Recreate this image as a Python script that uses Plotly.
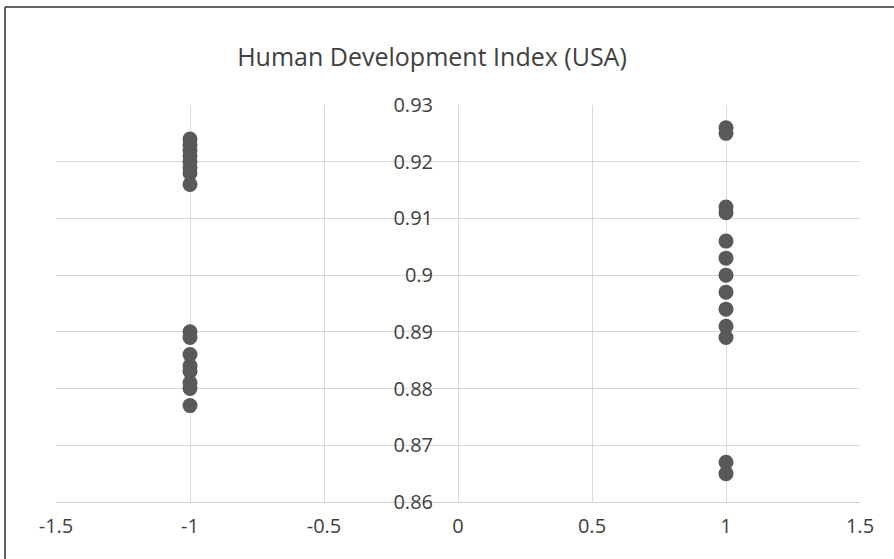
import plotly.graph_objects as go

# Data
group_a_y = [0.924, 0.923, 0.922, 0.921, 0.920, 0.919, 0.918, 0.916,
             0.890, 0.889, 0.886, 0.884, 0.883, 0.881, 0.880, 0.877]
group_a_x = [-1] * len(group_a_y)

group_b_y = [0.926, 0.925, 0.912, 0.911, 0.906, 0.903, 0.900, 0.897,
             0.894, 0.891, 0.889, 0.867, 0.865]
group_b_x = [1] * len(group_b_y)

xs = group_a_x + group_b_x
ys = group_a_y + group_b_y

x_ticks = [-1.5, -1, -0.5, 0, 0.5, 1, 1.5]
x_tick_text = ["-1.5", "-1", "-0.5", "0", "0.5", "1", "1.5"]
y_ticks = [0.86, 0.87, 0.88, 0.89, 0.90, 0.91, 0.92, 0.93]
y_tick_text = ["0.86", "0.87", "0.88", "0.89", "0.9", "0.91", "0.92", "0.93"]

FONT = "Open Sans"
TEXT = "#404040"

fig = go.Figure()
fig.add_trace(go.Scatter(
    x=xs, y=ys, mode="markers",
    marker=dict(size=15, color="#595959", line=dict(width=0)),
    showlegend=False, hoverinfo="skip",
))

bx = (5 - 56) / 804
by = (502 - 7) / 397
border = dict(color="#333333", width=1.5)

fig.update_layout(
    width=894, height=559,
    margin=dict(l=56, r=34, t=105, b=57),
    paper_bgcolor="white", plot_bgcolor="white",
    font=dict(family=FONT, color=TEXT, size=20),
    title=dict(text="Human Development Index (USA)", x=432 / 894, xref="container",
               xanchor="center", y=1 - 57 / 559, yref="container", yanchor="middle",
               font=dict(family=FONT, size=25, color=TEXT)),
    xaxis=dict(range=[-1.5, 1.5], tickvals=x_ticks, ticktext=x_tick_text,
               showgrid=True, gridcolor="#d9d9d9", gridwidth=1.3,
               zeroline=False, showline=True, linecolor="#d0d0d0", linewidth=1.3,
               ticks="", ticklabelstandoff=6, fixedrange=True,
               tickfont=dict(family=FONT, size=20, color=TEXT)),
    yaxis=dict(range=[0.86, 0.93], tickvals=y_ticks, ticktext=y_tick_text,
               showgrid=True, gridcolor="#d9d9d9", gridwidth=1.3,
               zeroline=False, showline=False, ticks="",
               anchor="free", position=0.5, ticklabelstandoff=25,
               fixedrange=True,
               tickfont=dict(family=FONT, size=20, color=TEXT)),
    shapes=[
        dict(type="line", xref="paper", yref="paper", x0=bx, x1=1.1, y0=by, y1=by,
             line=border, layer="above"),
        dict(type="line", xref="paper", yref="paper", x0=bx, x1=bx, y0=-0.3, y1=by,
             line=border, layer="above"),
    ],
)

fig.write_html("out.html", config={"displayModeBar": False},
               post_script="document.body.style.margin='0';document.body.style.overflow='hidden';")
